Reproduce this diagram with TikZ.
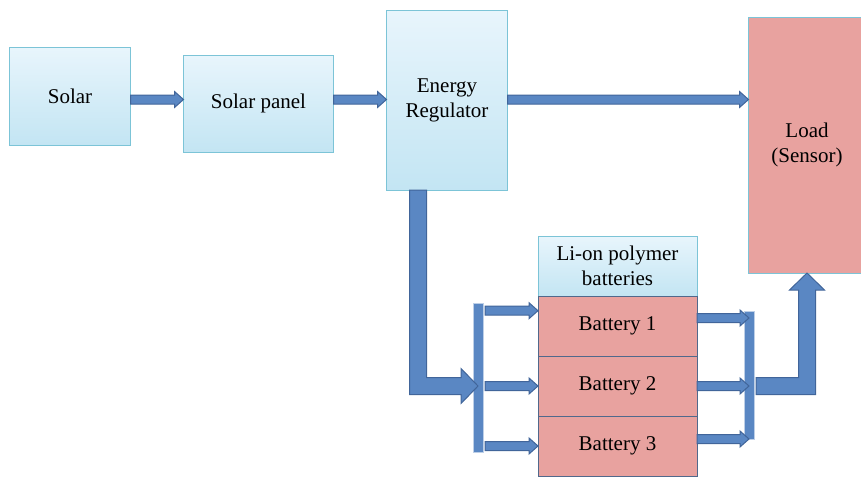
\documentclass[tikz,border=0pt]{standalone}
\usepackage{fontspec}
\setmainfont{Liberation Serif}
\usepackage{xcolor}
\usetikzlibrary{positioning,calc}
\definecolor{boxtop}{HTML}{E8F5FC}
\definecolor{boxbot}{HTML}{C3E5F3}
\definecolor{boxline}{HTML}{7CC4D7}
\definecolor{batfill}{HTML}{E8A29F}
\definecolor{batline}{HTML}{50698C}
\definecolor{arrfill}{HTML}{5A87C3}
\definecolor{arrline}{HTML}{41659A}
\tikzset{
  bluebox/.style={draw=boxline, line width=0.5pt, top color=boxtop, bottom color=boxbot, align=center, font=\fontsize{10.5}{12.5}\selectfont, inner sep=2pt, outer sep=0pt},
  batbox/.style={draw=batline, line width=0.5pt, fill=batfill, align=center, font=\fontsize{10.5}{12.5}\selectfont, inner sep=2pt, outer sep=0pt, minimum width=79.5pt, minimum height=30pt},
  busbar/.style={draw=arrfill!40!white, line width=0.4pt, fill=arrfill, inner sep=0pt, outer sep=0pt, minimum width=5pt},
  flow/.style={draw=arrline, fill=arrfill, line width=0.5pt, to path={let \p1=(\tikztostart), \p2=(\tikztotarget) in
    (\x1,\y1+2.25pt) -- (\x2-4.5pt,\y1+2.25pt) -- (\x2-4.5pt,\y1+4pt) -- (\x2,\y1) -- (\x2-4.5pt,\y1-4pt) -- (\x2-4.5pt,\y1-2.25pt) -- (\x1,\y1-2.25pt) -- cycle}},
  flowdown/.style={draw=arrline, fill=arrfill, line width=0.5pt, to path={let \p1=(\tikztostart), \p2=(\tikztotarget) in
    (\x1-4.25pt,\y1) -- (\x1-4.25pt,\y2-4.25pt) -- (\x2-8.5pt,\y2-4.25pt) -- (\x2-8.5pt,\y2-8.75pt) -- (\x2,\y2) -- (\x2-8.5pt,\y2+8.75pt) -- (\x2-8.5pt,\y2+4.25pt) -- (\x1+4.25pt,\y2+4.25pt) -- (\x1+4.25pt,\y1) -- cycle}},
  flowup/.style={draw=arrline, fill=arrfill, line width=0.5pt, to path={let \p1=(\tikztostart), \p2=(\tikztotarget) in
    (\x1,\y1+4.25pt) -- (\x2-4.25pt,\y1+4.25pt) -- (\x2-4.25pt,\y2-8.5pt) -- (\x2-8.75pt,\y2-8.5pt) -- (\x2,\y2) -- (\x2+8.75pt,\y2-8.5pt) -- (\x2+4.25pt,\y2-8.5pt) -- (\x2+4.25pt,\y1-4.25pt) -- (\x1,\y1-4.25pt) -- cycle}}
}

\begin{document}
\begin{tikzpicture}
\useasboundingbox (0,0) rectangle (430.5pt,-238.5pt);
% blocks
\node[bluebox, minimum width=60.5pt, minimum height=49pt] (solar) at (35pt,-48pt) {Solar};
\node[bluebox, minimum width=75pt, minimum height=48.5pt, right=26.5pt of solar, yshift=-3.75pt] (panel) {Solar panel};
\node[bluebox, minimum width=60.5pt, minimum height=90pt, right=26.5pt of panel, yshift=1.75pt] (reg) {Energy\\Regulator};
\node[batbox, draw=boxline, minimum width=58.5pt, minimum height=128pt, right=120.5pt of reg, yshift=-22.5pt] (load) {Load\\(Sensor)};
\node[bluebox, minimum width=79.5pt, minimum height=30pt] (pack) at (308.75pt,-133pt) {Li-on polymer\\batteries};
\node[batbox, below=0pt of pack] (bat1) {Battery 1};
\node[batbox, below=0pt of bat1] (bat2) {Battery 2};
\node[batbox, below=0pt of bat2] (bat3) {Battery 3};
% bus bars
\node[busbar, minimum height=74.5pt] (leftbar) at (239pt,-188.75pt) {};
\node[busbar, minimum height=64pt] (rightbar) at (374.5pt,-187.5pt) {};
% power flow
\draw[flow] ([yshift=-1.75pt]solar.east) to (panel.west);
\draw[flow] ([yshift=2pt]panel.east) to (reg.west);
\draw[flow] ([yshift=0.25pt]reg.east) to (load.west);
\draw[flowdown] ([xshift=15.75pt]reg.south west) to (leftbar.center |- bat2.center);
\draw[flow] ($(leftbar.east |- bat1.center)+(1pt,7.65pt)$) to (bat1.west);
\draw[flow] ($(leftbar.east |- bat2.center)+(1pt,0)$) to (bat2.west);
\draw[flow] ($(leftbar.east |- bat3.center)+(1pt,0)$) to (bat3.west);
\draw[flow] ([yshift=4pt]bat1.east) to (rightbar.center);
\draw[flow] (bat2.east) to (rightbar.center);
\draw[flow] ([yshift=3.5pt]bat3.east) to (rightbar.center);
\draw[flowup] ($(rightbar.east |- bat2.center)+(1pt,0)$) to (load.south);
\end{tikzpicture}
\end{document}
